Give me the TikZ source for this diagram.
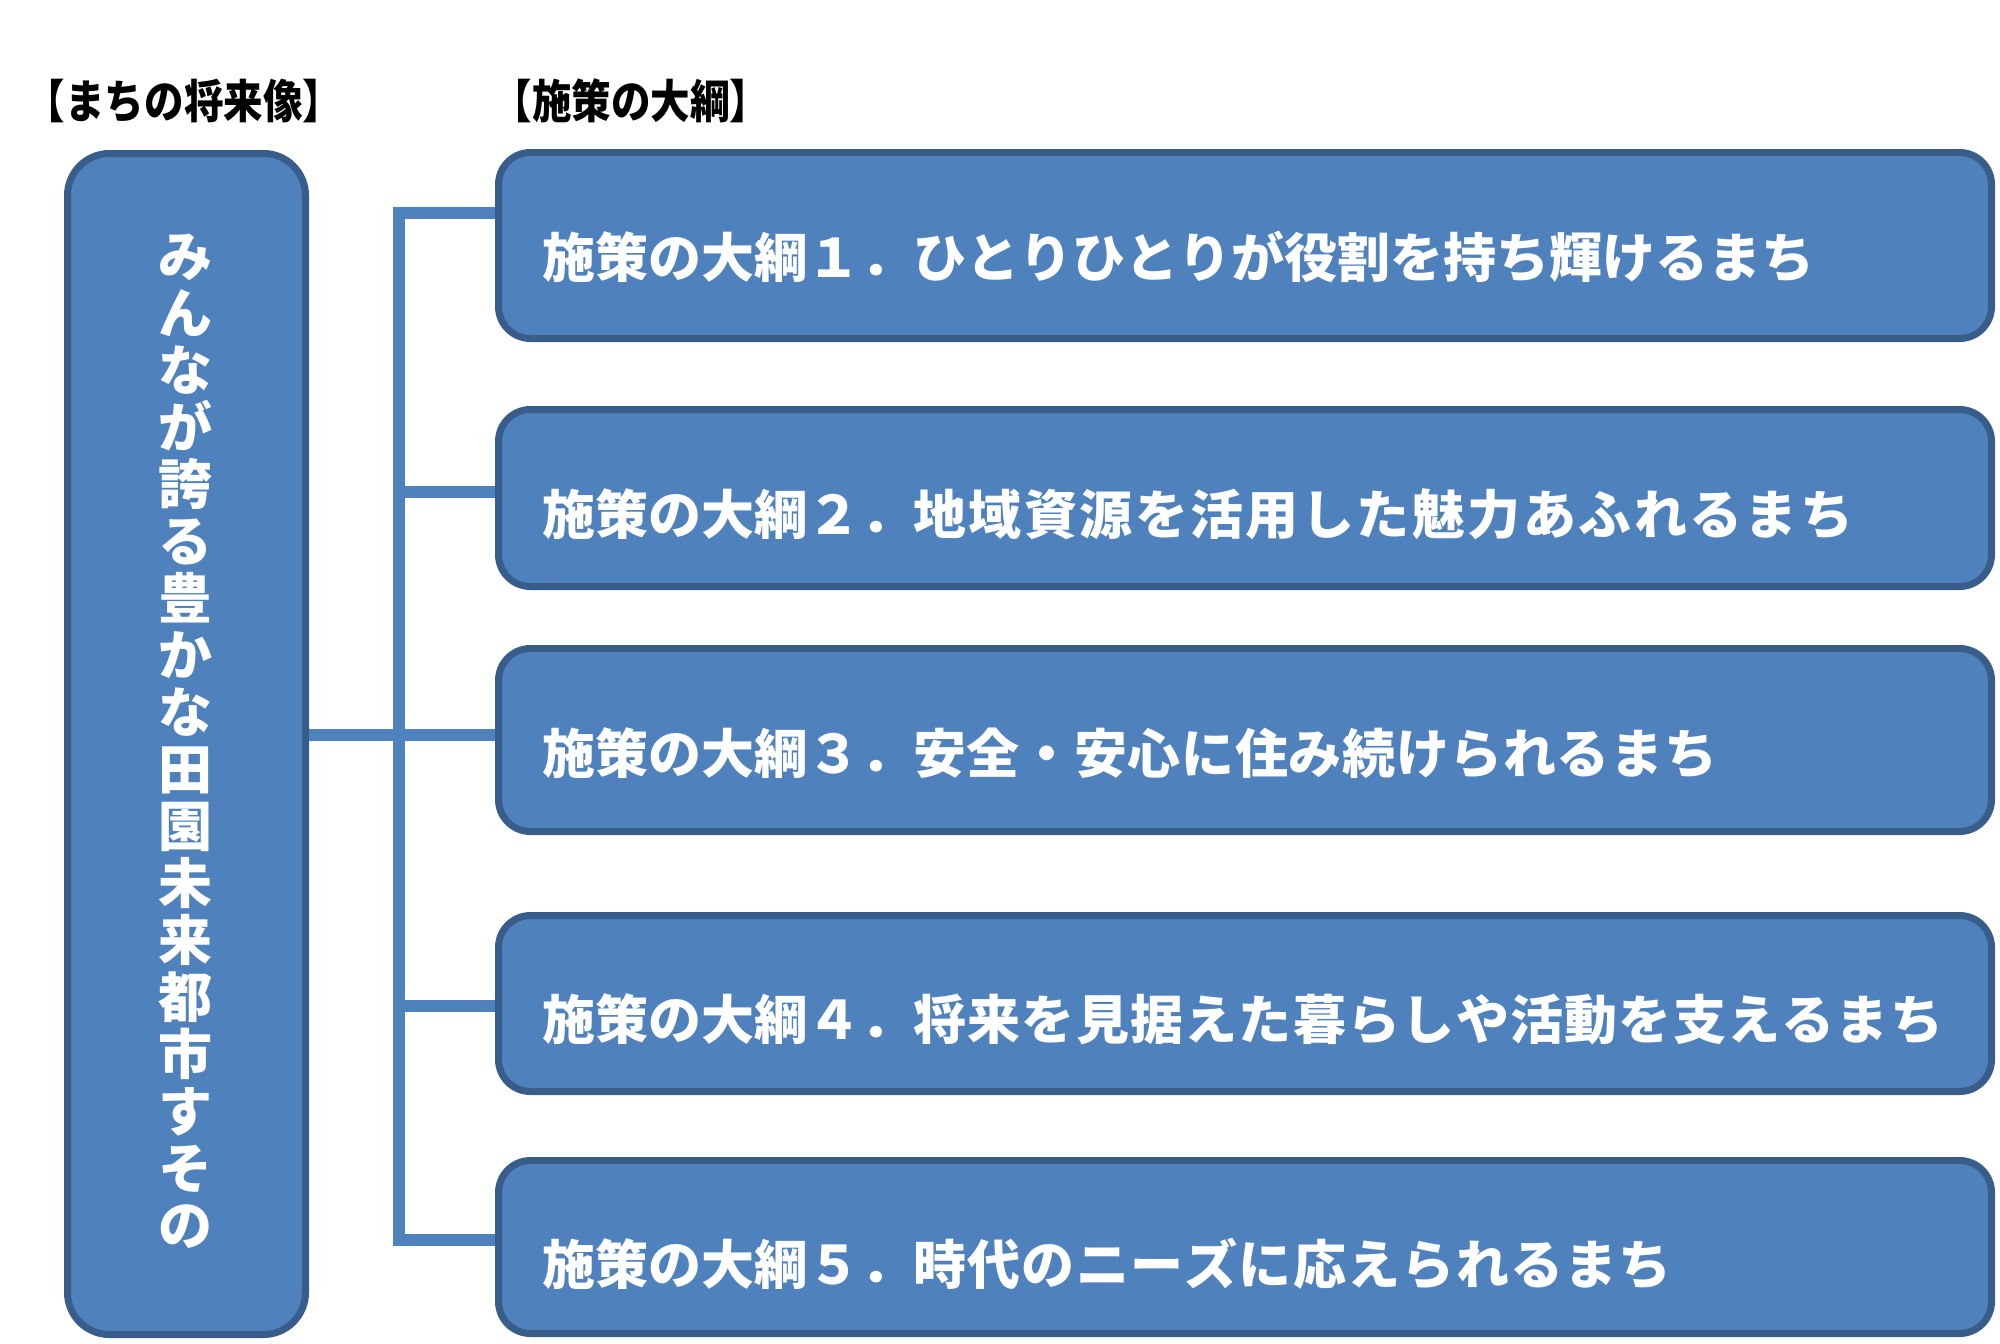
\documentclass[tikz,border=0pt]{standalone}
\usepackage{fontspec}
\setmainfont[Kerning=Off]{Noto Sans CJK JP}
\newfontfamily\headfont[Kerning=Off, FakeStretch=0.86]{Noto Sans CJK JP}
\definecolor{boxfill}{HTML}{4F81BD}
\definecolor{boxline}{HTML}{385D8A}
\newcommand{\spaced}[2]{{\addfontfeature{LetterSpace=#1}#2}}

\begin{document}
\begin{tikzpicture}[
		x=0.5pt, y=-0.5pt,
		goal/.style={draw=boxline, fill=boxfill, line width=3.5pt, rounded corners=16pt, minimum width=746.5pt, inner sep=0pt},
		goaltext/.style={anchor=west, inner sep=0pt, text=white, font=\bfseries\fontsize{26.5}{30}\selectfont},
		heading/.style={inner sep=0pt, font=\headfont\bfseries\fontsize{23}{26}\selectfont},
		link/.style={draw=boxfill, line width=6pt},
	]
	\useasboundingbox (0,0) rectangle (2000,1343);

	% headings
	\node[heading] (hvision) at (184,101) {【まちの将来像】};
	\node[heading] (hgoals) at (631,101) {【施策の大綱】};

	% vision
	\node[goal, rounded corners=21pt, minimum width=119pt, minimum height=590.5pt] (vision) at (186.5,744) {};
	\node[inner sep=0pt, text=white, align=center, font=\bfseries\fontsize{27}{28.5}\selectfont] (vtext) at (185,741)
		{み\\ん\\な\\が\\誇\\る\\豊\\か\\な\\田\\園\\未\\来\\都\\市\\す\\そ\\の};

	% goals
	\node[goal, minimum height=93pt] (g1) at (1245,245.5) {};
	\node[goal, minimum height=88.5pt] (g2) at (1245,498) {};
	\node[goal, minimum height=91.5pt] (g3) at (1245,740) {};
	\node[goal, minimum height=88pt] (g4) at (1245,1003.5) {};
	\node[goal, minimum height=86.5pt] (g5) at (1245,1247) {};

	\node[goaltext] (t1) at (542,257) {施策の大綱１．ひとりひとりが役割を持ち輝けるまち};
	\node[goaltext] (t2) at (542,514) {施策の大綱２．\spaced{4.6}{地域資源を活用した魅力あふれるまち}};
	\node[goaltext] (t3) at (542,753) {施策の大綱３．\spaced{1.2}{安全・安心に住み続けられるまち}};
	\node[goaltext] (t4) at (542,1019) {施策の大綱４．\spaced{2.4}{将来を見据えた暮らしや活動を支えるまち}};
	\node[goaltext] (t5) at (542,1264) {施策の大綱５．\spaced{2.4}{時代のニーズに応えられるまち}};

	% links
	\coordinate (b1) at (399,213);
	\coordinate (b2) at (399,492);
	\coordinate (b3) at (399,735);
	\coordinate (b4) at (399,1006);
	\coordinate (b5) at (399,1240);
	\draw[link] (b1 -| g1.west) -- (b1) -- (b5) -- (b5 -| g5.west);
	\draw[link] (b2) -- (b2 -| g2.west);
	\draw[link] (b4) -- (b4 -| g4.west);
	\draw[link] (vision.east |- b3) -- (b3 -| g3.west);
\end{tikzpicture}
\end{document}
